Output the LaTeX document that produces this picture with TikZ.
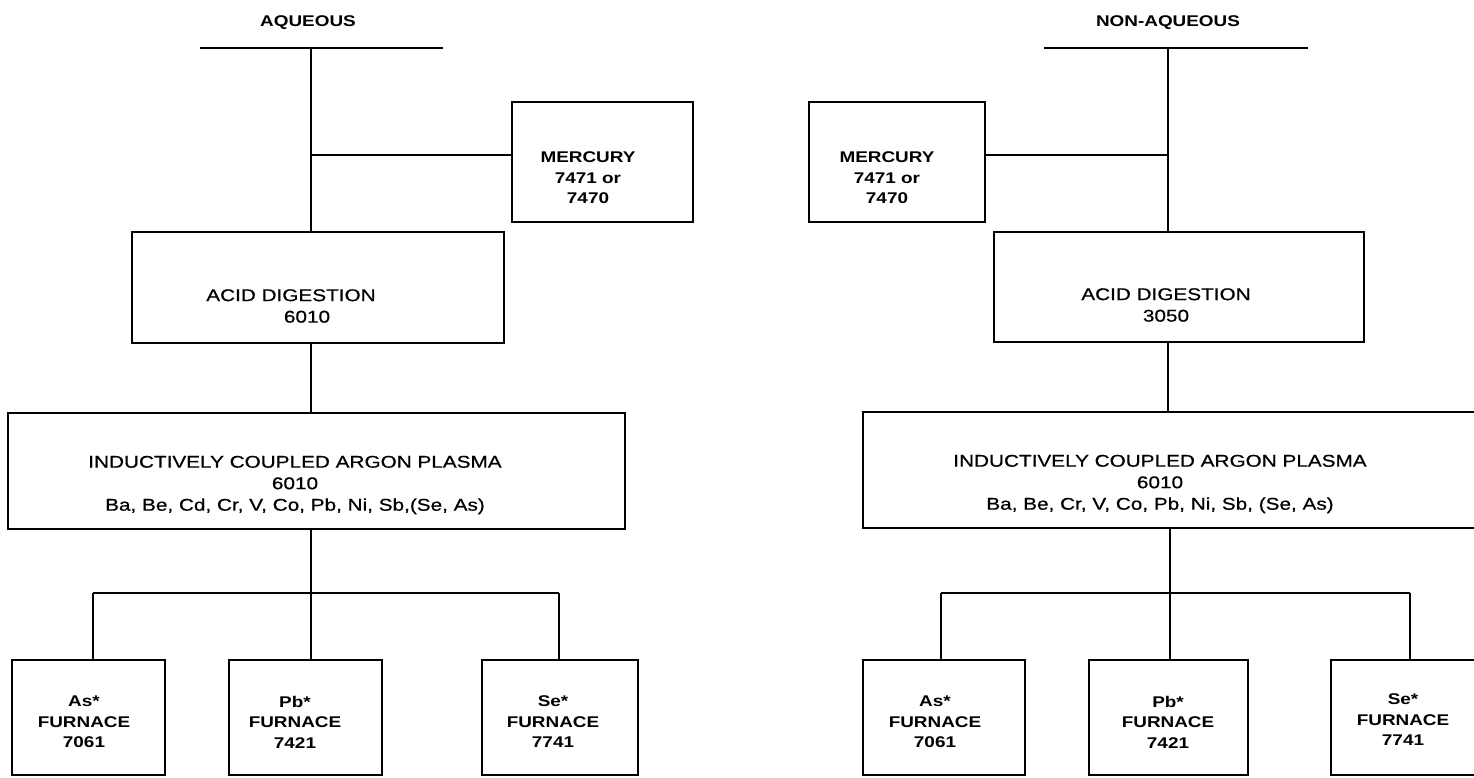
\documentclass[tikz,border=0pt]{standalone}
\usepackage{fontspec}
\setmainfont{Liberation Sans}[FakeStretch=1.22]
\newfontfamily\medfont{Liberation Sans}[FakeStretch=1.22,FakeBold=0.6]
\begin{document}
\begin{tikzpicture}[x=1pt,y=-1pt,
  box/.style={draw, line width=2.6pt, inner sep=0pt},
  conn/.style={line width=2pt},
  bar/.style={line width=2.8pt},
  lab/.style={align=center, inner sep=0pt, font=\medfont\fontsize{17}{21.5}\selectfont},
  blab/.style={align=center, inner sep=0pt, font=\fontsize{15.5}{20.5}\selectfont\bfseries}]
\useasboundingbox (0,0) rectangle (1474,777);

% ---------------- LEFT (AQUEOUS) ----------------
\node[blab] (titL) at (308,23) {AQUEOUS};
\node[box, minimum width=181pt, minimum height=120pt] (mercL) at (602.5,162) {};
\node[blab] (mercLt) at (588,178) {MERCURY\\7471 or\\7470};
\node[box, minimum width=372pt, minimum height=111pt] (acidL) at (318,287.5) {};
\node[lab] (acidLt) at (291,306) {ACID DIGESTION\\\hspace*{32pt}6010};
\node[box, minimum width=617pt, minimum height=116pt] (icpL) at (316.5,471) {};
\node[lab] (icpLt) at (295,485) {INDUCTIVELY COUPLED ARGON PLASMA\\6010\\Ba, Be, Cd, Cr, V, Co, Pb, Ni, Sb,(Se, As)};
\node[box, minimum width=153pt, minimum height=115pt] (asL) at (88.5,717.5) {};
\node[box, minimum width=153pt, minimum height=115pt] (pbL) at (305.5,717.5) {};
\node[box, minimum width=156pt, minimum height=115pt] (seL) at (560,717.5) {};
\node[blab] (asLt) at (84,722) {As*\\FURNACE\\7061};
\node[blab] (pbLt) at (295,722) {Pb*\\FURNACE\\7421};
\node[blab] (seLt) at (553,722) {Se*\\FURNACE\\7741};

\coordinate (barLa) at (200,48);
\coordinate (barLb) at (443,48);
\coordinate (jtL) at (311,48);
\coordinate (jmL) at (311,155);
\coordinate (jbL) at (311,593);
\coordinate (hLa) at (93,593);
\coordinate (hLb) at (559,593);
\draw[bar] (barLa) -- (barLb);
\draw[conn] (jtL) -- (jtL |- acidL.north);
\draw[bar] (jmL) -- (jmL -| mercL.west);
\draw[conn] (acidL.south -| jtL) -- (icpL.north -| jtL);
\draw[conn] (icpL.south -| jbL) -- (jbL);
\draw[bar] (hLa) -- (hLb);
\draw[conn] (hLa) -- (hLa |- asL.north);
\draw[conn] (jbL) -- (jbL |- pbL.north);
\draw[conn] (hLb) -- (hLb |- seL.north);

% ---------------- RIGHT (NON-AQUEOUS) ----------------
\node[blab] (titR) at (1168,23) {NON-AQUEOUS};
\node[box, minimum width=176pt, minimum height=120pt] (mercR) at (897,162) {};
\node[blab] (mercRt) at (887,178) {MERCURY\\7471 or\\7470};
\node[box, minimum width=370pt, minimum height=110pt] (acidR) at (1179,287) {};
\node[lab] (acidRt) at (1166,305) {ACID DIGESTION\\3050};
\node[box, minimum width=617pt, minimum height=116pt] (icpR) at (1171.5,470) {};
\node[lab] (icpRt) at (1160,484) {INDUCTIVELY COUPLED ARGON PLASMA\\6010\\Ba, Be, Cr, V, Co, Pb, Ni, Sb, (Se, As)};
\node[box, minimum width=162pt, minimum height=115pt] (asR) at (944,717.5) {};
\node[box, minimum width=159pt, minimum height=115pt] (pbR) at (1168.5,717.5) {};
\node[box, minimum width=149pt, minimum height=115pt] (seR) at (1405.5,717.5) {};
\node[blab] (asRt) at (935,722) {As*\\FURNACE\\7061};
\node[blab] (pbRt) at (1168,722) {Pb*\\FURNACE\\7421};
\node[blab] (seRt) at (1403,720) {Se*\\FURNACE\\7741};

\coordinate (barRa) at (1044,48);
\coordinate (barRb) at (1308,48);
\coordinate (jtR) at (1168,48);
\coordinate (jmR) at (1168,155);
\coordinate (jbR) at (1170,593);
\coordinate (hRa) at (941,593);
\coordinate (hRb) at (1410,593);
\draw[bar] (barRa) -- (barRb);
\draw[conn] (jtR) -- (jtR |- acidR.north);
\draw[bar] (jmR) -- (jmR -| mercR.east);
\draw[conn] (acidR.south -| jtR) -- (icpR.north -| jtR);
\draw[conn] (icpR.south -| jbR) -- (jbR);
\draw[bar] (hRa) -- (hRb);
\draw[conn] (hRa) -- (hRa |- asR.north);
\draw[conn] (jbR) -- (jbR |- pbR.north);
\draw[conn] (hRb) -- (hRb |- seR.north);
\end{tikzpicture}
\end{document}
